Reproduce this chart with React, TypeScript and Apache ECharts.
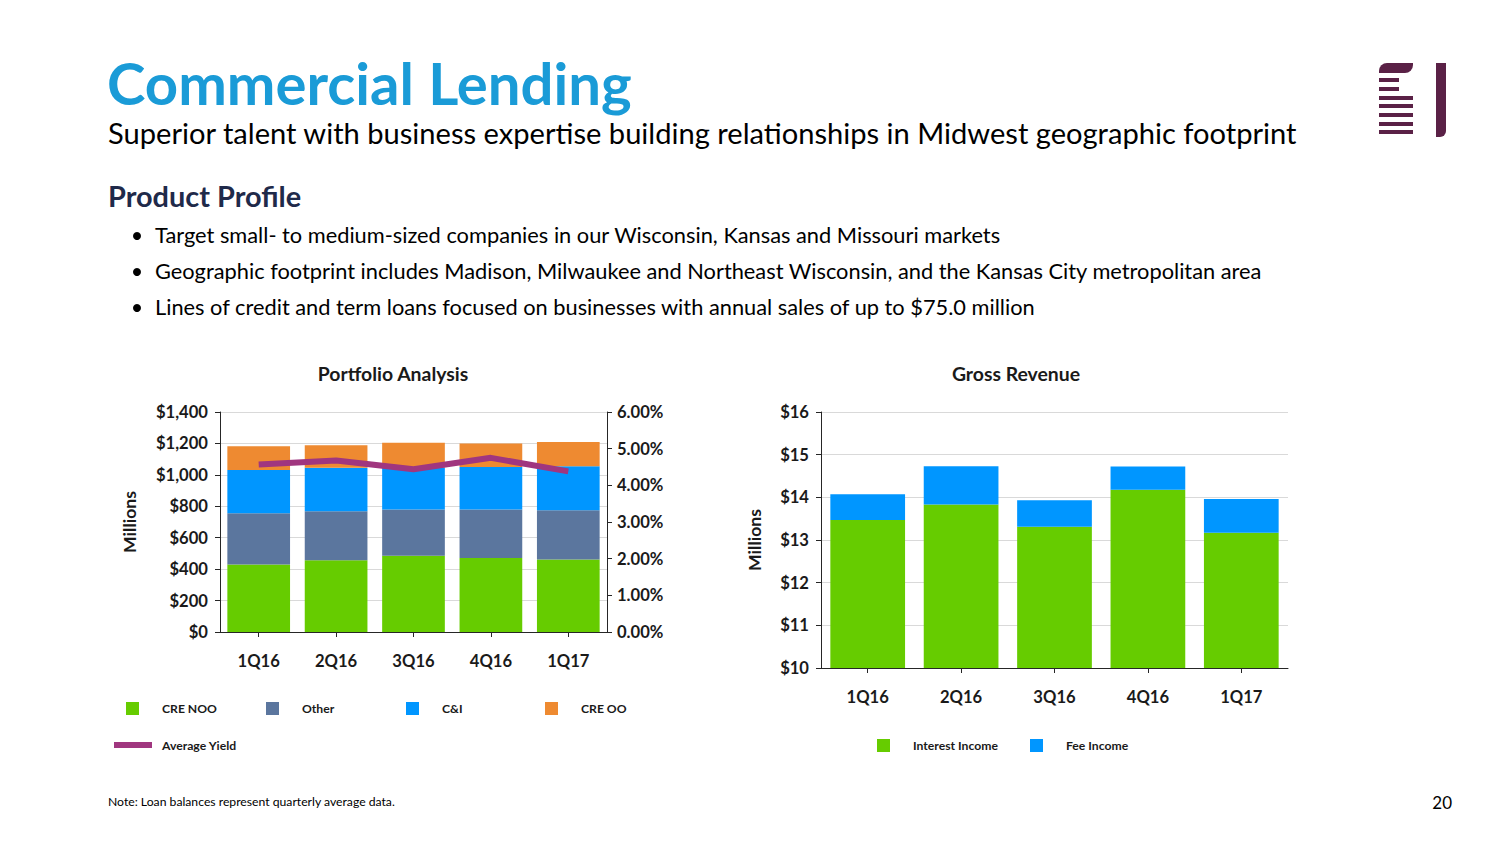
import React, { useEffect, useRef } from "react";
import * as echarts from "echarts";

const FONT = "Lato";

// ---- data ----
const quarters = ["1Q16", "2Q16", "3Q16", "4Q16", "1Q17"];
const creNoo = [430, 456, 486, 471, 462];
const otherLoans = [325, 312, 293, 308, 312];
const cAndI = [276, 278, 267, 271, 280];
const creOo = [151, 142, 159, 149, 155];
const avgYield = [4.57, 4.68, 4.44, 4.75, 4.38];
const interestIncome = [13.47, 13.83, 13.31, 14.18, 13.17];
const feeIncome = [0.6, 0.9, 0.62, 0.54, 0.79];

const portfolioAxis = [0, 1400, 200];
const yieldAxis = [0, 6, 1];
const revenueAxis = [10, 16, 1];

const bullets = [
  "Target small- to medium-sized companies in our Wisconsin, Kansas and Missouri markets",
  "Geographic footprint includes Madison, Milwaukee and Northeast Wisconsin, and the Kansas City metropolitan area",
  "Lines of credit and term loans focused on businesses with annual sales of up to $75.0 million",
];

const C_GREEN = "#66CC00";
const C_SLATE = "#5B769E";
const C_BLUE = "#0096FF";
const C_ORANGE = "#EE8A31";
const C_PURPLE = "#A0367F";
const C_AXIS = "#262626";
const C_TEXT = "#1a1a1a";

function fit(text: string, weight: string, target: number): number {
  const ctx = document.createElement("canvas").getContext("2d")!;
  ctx.font = `${weight} 100px ${FONT}`;
  const w = ctx.measureText(text).width;
  return Math.round((1000 * target) / w) / 10;
}

export default function App() {
  const ref = useRef<HTMLDivElement>(null);

  useEffect(() => {
    if (!ref.current) return;
    const chart = echarts.init(ref.current, undefined, { renderer: "svg" });

    const titleSize = fit("Commercial Lending", "bold", 525);
    const subSize = fit(
      "Superior talent with business expertise building relationships in Midwest geographic footprint",
      "normal",
      1189
    );
    const ppSize = fit("Product Profile", "bold", 193);
    const bulletSize = fit(bullets[1], "normal", 1105);
    const noteSize = fit("Note: Loan balances represent quarterly average data.", "normal", 287);
    const chartTitleSize = fit("Portfolio Analysis", "bold", 151);
    const axisSize = fit("$1,400", "bold", 52);
    const legendSize = fit("CRE NOO", "bold", 55);

    const txt = (text: string, x: number, y: number, size: number, weight: string, fill: string, align = "left") => ({
      type: "text",
      x,
      y,
      silent: true,
      style: {
        text,
        fontFamily: FONT,
        fontSize: size,
        fontWeight: weight,
        fill,
        align,
        verticalAlign: "middle",
      },
    });

    const logoColor = "#5A2146";
    const logoBars = [
      [1379, 78, 20],
      [1379, 87, 20],
      [1379, 96, 34],
      [1379, 104, 34],
      [1379, 113, 34],
      [1379, 122, 34],
      [1379, 130, 34],
    ];

    const graphic: any[] = [
      txt("Commercial Lending", 107, 82, titleSize, "bold", "#1A9BD7"),
      txt(
        "Superior talent with business expertise building relationships in Midwest geographic footprint",
        108,
        132,
        subSize,
        "normal",
        "#000"
      ),
      txt("Product Profile", 108, 195, ppSize, "bold", "#1F2A4A"),
      ...bullets.flatMap((b, i) => [
        { type: "circle", shape: { cx: 137, cy: 236 + i * 36, r: 4 }, style: { fill: "#000" }, silent: true },
        txt(b, 155, 234 + i * 36, bulletSize, "normal", "#000"),
      ]),
      txt("Portfolio Analysis", 393, 373, chartTitleSize, "bold", C_TEXT, "center"),
      txt("Gross Revenue", 1016, 373, chartTitleSize, "bold", C_TEXT, "center"),
      txt("Note: Loan balances represent quarterly average data.", 108, 801, noteSize, "normal", "#000"),
      txt("20", 1452, 802, 17, "normal", "#000", "right"),
      {
        type: "rect",
        shape: { x: 1379, y: 63, width: 34, height: 10, r: [8, 0, 8, 0] },
        style: { fill: logoColor },
        silent: true,
      },
      ...logoBars.map(([x, y, w]) => ({
        type: "rect",
        shape: { x, y, width: w, height: 4 },
        style: { fill: logoColor },
        silent: true,
      })),
      {
        type: "rect",
        shape: { x: 1436, y: 63, width: 10, height: 74, r: [0, 0, 6, 0] },
        style: { fill: logoColor },
        silent: true,
      },
    ];

    const axisLabelStyle = {
      fontFamily: FONT,
      fontWeight: "bold" as const,
      fontSize: axisSize,
      color: C_TEXT,
    };
    const axisLine = { show: true, lineStyle: { color: C_AXIS, width: 1 } };
    const axisTick = { show: true, length: 5, lineStyle: { color: C_AXIS } };
    const splitLine = { show: true, lineStyle: { color: "#D9D9D9", width: 1 } };
    const nameStyle = { fontFamily: FONT, fontWeight: "bold" as const, fontSize: axisSize + 1, color: C_TEXT };

    const legendText = (padLeft: number) => ({
      fontFamily: FONT,
      fontWeight: "bold" as const,
      fontSize: legendSize,
      color: C_TEXT,
      padding: [0, 0, 0, padLeft],
    });
    const sqLegend = (name: string, left: number, top: number) => ({
      data: [{ name, icon: "rect" }],
      left,
      top,
      padding: 0,
      itemWidth: 13,
      itemHeight: 13,
      selectedMode: false,
      textStyle: legendText(18),
    });

    const option: any = {
      animation: false,
      backgroundColor: "#ffffff",
      textStyle: { fontFamily: FONT },
      graphic,
      legend: [
        sqLegend("CRE NOO", 126, 702),
        sqLegend("Other", 266, 702),
        sqLegend("C&I", 406, 702),
        sqLegend("CRE OO", 545, 702),
        {
          data: [{ name: "Average Yield", icon: "rect" }],
          left: 114,
          top: 739,
          padding: 0,
          itemWidth: 38,
          itemHeight: 6,
          selectedMode: false,
          textStyle: legendText(5),
        },
        sqLegend("Interest Income", 877, 739),
        sqLegend("Fee Income", 1030, 739),
      ],
      grid: [
        { left: 220, top: 412, width: 387, height: 220 },
        { left: 821, top: 412, width: 467, height: 256 },
      ],
      xAxis: [
        {
          type: "category",
          gridIndex: 0,
          data: quarters,
          axisLine,
          axisTick: { ...axisTick, alignWithLabel: true },
          axisLabel: { ...axisLabelStyle, margin: 20 },
        },
        {
          type: "category",
          gridIndex: 1,
          data: quarters,
          axisLine,
          axisTick: { ...axisTick, alignWithLabel: true },
          axisLabel: { ...axisLabelStyle, margin: 20 },
        },
      ],
      yAxis: [
        {
          type: "value",
          gridIndex: 0,
          min: portfolioAxis[0],
          max: portfolioAxis[1],
          interval: portfolioAxis[2],
          axisLine,
          axisTick,
          splitLine,
          name: "Millions",
          nameLocation: "middle",
          nameGap: 82,
          nameTextStyle: nameStyle,
          axisLabel: {
            ...axisLabelStyle,
            margin: 12,
            formatter: (v: number) => "$" + v.toLocaleString("en-US"),
          },
        },
        {
          type: "value",
          gridIndex: 0,
          position: "right",
          min: yieldAxis[0],
          max: yieldAxis[1],
          interval: yieldAxis[2],
          axisLine,
          axisTick,
          splitLine: { show: false },
          axisLabel: {
            ...axisLabelStyle,
            margin: 10,
            formatter: (v: number) => v.toFixed(2) + "%",
          },
        },
        {
          type: "value",
          gridIndex: 1,
          min: revenueAxis[0],
          max: revenueAxis[1],
          interval: revenueAxis[2],
          axisLine,
          axisTick,
          splitLine,
          name: "Millions",
          nameLocation: "middle",
          nameGap: 58,
          nameTextStyle: nameStyle,
          axisLabel: {
            ...axisLabelStyle,
            margin: 12,
            formatter: (v: number) => "$" + v,
          },
        },
      ],
      series: [
        { name: "CRE NOO", type: "bar", stack: "p", xAxisIndex: 0, yAxisIndex: 0, data: creNoo, itemStyle: { color: C_GREEN }, barCategoryGap: "19%" },
        { name: "Other", type: "bar", stack: "p", xAxisIndex: 0, yAxisIndex: 0, data: otherLoans, itemStyle: { color: C_SLATE } },
        { name: "C&I", type: "bar", stack: "p", xAxisIndex: 0, yAxisIndex: 0, data: cAndI, itemStyle: { color: C_BLUE } },
        { name: "CRE OO", type: "bar", stack: "p", xAxisIndex: 0, yAxisIndex: 0, data: creOo, itemStyle: { color: C_ORANGE } },
        {
          name: "Average Yield",
          type: "line",
          xAxisIndex: 0,
          yAxisIndex: 1,
          data: avgYield,
          symbol: "none",
          showSymbol: false,
          itemStyle: { color: C_PURPLE },
          lineStyle: { color: C_PURPLE, width: 6 },
          z: 5,
        },
        { name: "Interest Income", type: "bar", stack: "r", xAxisIndex: 1, yAxisIndex: 2, data: interestIncome, itemStyle: { color: C_GREEN }, barCategoryGap: "20%" },
        { name: "Fee Income", type: "bar", stack: "r", xAxisIndex: 1, yAxisIndex: 2, data: feeIncome, itemStyle: { color: C_BLUE } },
      ],
    };

    chart.setOption(option);
    return () => chart.dispose();
  }, []);

  return (
    <div
      ref={ref}
      style={{ position: "absolute", left: 0, top: 0, width: 1504, height: 846, background: "#fff" }}
    />
  );
}
